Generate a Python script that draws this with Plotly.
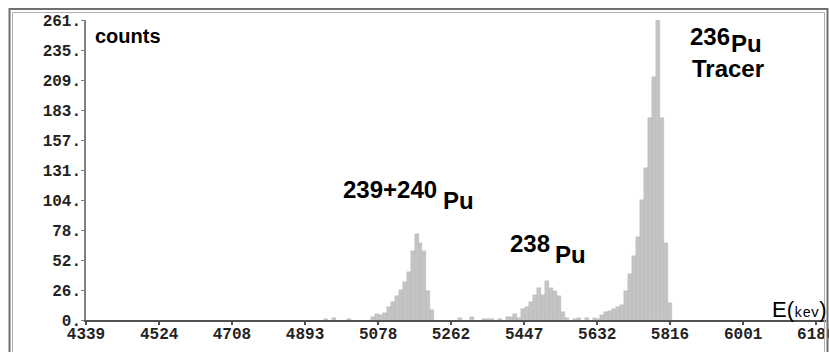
import plotly.graph_objects as go

# ---- data ----
energy_kev = [4945, 4965, 5005, 5065, 5075, 5085, 5095, 5105, 5115, 5125, 5135, 5145,
              5155, 5165, 5175, 5185, 5195, 5205, 5215, 5285, 5315, 5345, 5355, 5365,
              5385, 5405, 5415, 5425, 5435, 5445, 5455, 5465, 5475, 5485, 5495, 5505,
              5515, 5525, 5535, 5545, 5555, 5575, 5585, 5605, 5625, 5635, 5645, 5655,
              5665, 5675, 5685, 5695, 5705, 5715, 5725, 5735, 5745, 5755, 5765, 5775,
              5785, 5795, 5805, 5815]
counts = [1, 2, 1, 3, 5, 4, 6, 11, 16, 21, 26, 33,
          42, 60, 75, 67, 60, 25, 9, 2, 3, 1, 1, 1,
          1, 3, 3, 5, 2, 10, 11, 16, 22, 28, 22, 34,
          28, 25, 21, 7, 2, 1, 2, 2, 2, 1, 4, 7,
          8, 10, 11, 13, 25, 40, 56, 72, 104, 132, 176, 211,
          261, 176, 67, 15]
bin_width_kev = 10

x_tick_vals = [4339, 4524, 4708, 4893, 5078, 5262, 5447, 5632, 5816, 6001, 6186]
x_tick_text = ["4339", "4524", "4708", "4893", "5078", "5262", "5447", "5632", "5816", "6001", "6186"]
y_tick_vals = [0, 26.1, 52.2, 78.3, 104.4, 130.5, 156.6, 182.7, 208.8, 234.9, 261]
y_tick_text = ["0.", "26.", "52.", "78.", "104.", "131.", "157.", "183.", "209.", "235.", "261."]

W, H = 829, 352
ML, MR, MT, MB = 86, 3, 20, 32
PW, PH = W - ML - MR, H - MT - MB

def px(x):
    return (x - ML) / PW

def py(y):
    return (H - MB - y) / PH

fig = go.Figure()
fig.add_trace(go.Bar(
    x=energy_kev, y=counts, width=[bin_width_kev] * len(counts),
    marker=dict(color="#c4c4c4", line=dict(color="#b2b2b2", width=0.4)),
    hoverinfo="x+y",
))

mono = "Liberation Mono, Courier New, monospace"
sans = "Liberation Sans, Arial, sans-serif"

fig.update_layout(
    width=W, height=H,
    margin=dict(l=ML, r=MR, t=MT, b=MB, autoexpand=False),
    paper_bgcolor="white", plot_bgcolor="white",
    showlegend=False, bargap=0,
    xaxis=dict(range=[4339, 4339 + PW / 0.3954], tickvals=x_tick_vals, ticktext=x_tick_text,
               showgrid=False, zeroline=False, showline=True, linecolor="#505050", linewidth=2,
               ticks="outside", ticklen=3, tickwidth=1.5, tickcolor="#505050",
               ticklabeloverflow="allow", automargin=False, ticklabelstandoff=-5,
               tickfont=dict(family=mono, size=16, color="#222", weight="bold")),
    yaxis=dict(range=[0, 261], tickvals=y_tick_vals, ticktext=y_tick_text,
               showgrid=False, zeroline=False, showline=True, linecolor="#808080", linewidth=1.5,
               ticks="outside", ticklen=3, tickwidth=1, tickcolor="#808080",
               automargin=False, ticklabelstandoff=-3,
               tickfont=dict(family=mono, size=16, color="#222", weight="bold")),
)

# frame (double border)
fig.add_shape(type="rect", xref="paper", yref="paper",
              x0=px(9.5), x1=px(827.5), y0=py(400), y1=py(9),
              line=dict(color="#707070", width=2), layer="above")
fig.add_shape(type="rect", xref="paper", yref="paper",
              x0=px(12.5), x1=px(824.5), y0=py(400), y1=py(12.5),
              line=dict(color="#b0b0b0", width=1), layer="above")

def label(text, x, y, size=24, bold=True, family=sans):
    fig.add_annotation(xref="paper", yref="paper", x=px(x), y=py(y), text=text,
                       showarrow=False, xanchor="left", yanchor="middle",
                       font=dict(family=family, size=size, color="black",
                                 weight="bold" if bold else "normal"))

label("counts", 93, 36, size=20, bold=True)
label("239+240", 341, 189)
label("Pu", 441, 201)
label("238", 508, 244)
label("Pu", 553, 254)
label("236", 688, 36)
label("Pu", 729, 43)
label("Tracer", 690, 68)
label("E(<span style='font-size:14px;font-family:Liberation Mono'>kev</span>)", 770, 309,
      size=22, bold=False)

fig.write_html("out.html")
